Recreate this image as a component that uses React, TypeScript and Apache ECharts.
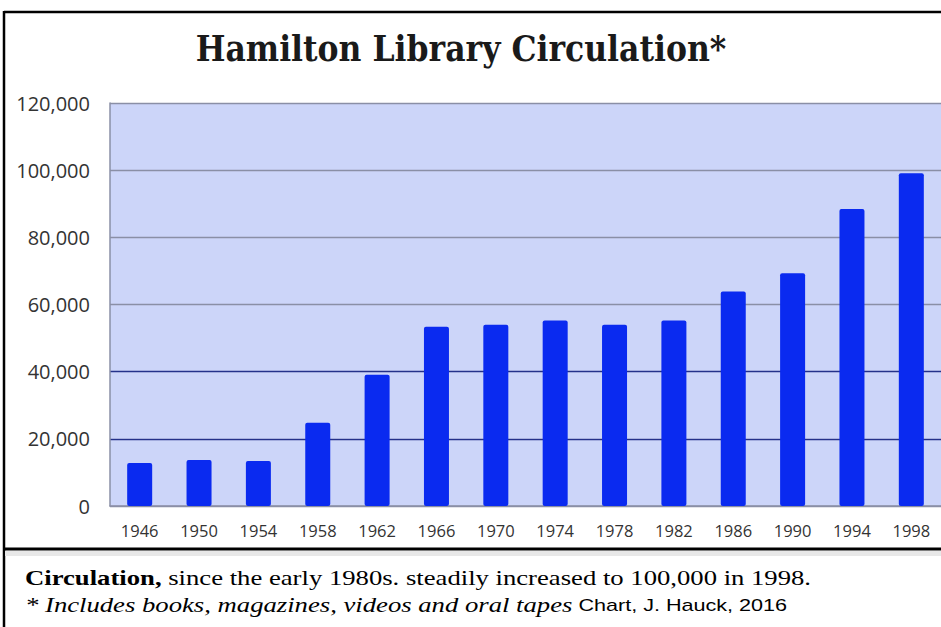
import React, { useEffect, useRef } from "react";
import * as echarts from "echarts";

const years = ["1946", "1950", "1954", "1958", "1962", "1966", "1970", "1974", "1978", "1982", "1986", "1990", "1994", "1998"];
const circulation = [12800, 13700, 13400, 24800, 39100, 53400, 54000, 55200, 54000, 55200, 63900, 69300, 88400, 99100];
const yTicks = { min: 0, max: 120000, interval: 20000 };
const titleText = "Hamilton Library Circulation*";
const noteBold = "Circulation,";
const noteRest = " since the early 1980s. steadily increased to 100,000 in 1998.";
const footItalic = "* Includes books, magazines, videos and oral tapes";
const footCredit = " Chart, J. Hauck, 2016";

export default function App() {
  const ref = useRef<HTMLDivElement>(null);
  useEffect(() => {
    if (!ref.current) return;
    const chart = echarts.init(ref.current, null, { renderer: "svg" });
    const gray = "#8a8fa6";
    const navy = "#24318a";
    chart.setOption({
      animation: false,
      backgroundColor: "#ffffff",
      grid: { left: 110, top: 103, width: 837, height: 403, containLabel: false },
      xAxis: {
        type: "category",
        data: years,
        axisLine: { show: true, lineStyle: { color: gray, width: 1.5 } },
        axisTick: { show: false },
        axisLabel: { color: "#333333", fontFamily: "Open Sans", fontSize: 16.5, margin: 16 },
      },
      yAxis: {
        type: "value",
        min: yTicks.min,
        max: yTicks.max,
        interval: yTicks.interval,
        axisLine: { show: true, lineStyle: { color: gray, width: 1.5 } },
        axisTick: { show: false },
        splitLine: {
          show: true,
          lineStyle: { color: [gray, navy, navy, gray, gray, gray, gray], width: 1.3 },
        },
        splitArea: { show: true, areaStyle: { color: ["#ccd5f9", "#ccd5f9"] } },
        axisLabel: {
          color: "#333333",
          fontFamily: "Open Sans",
          fontSize: 20,
          margin: 20,
          formatter: (v: number) => v.toLocaleString("en-US"),
        },
      },
      series: [
        {
          type: "bar",
          data: circulation,
          barWidth: 25,
          itemStyle: { color: "#0a2af0", borderRadius: 2 },
        },
      ],
      graphic: [
        { type: "line", shape: { x1: 4, y1: 12, x2: 941, y2: 12 }, style: { stroke: "#000", lineWidth: 2.5 } },
        { type: "line", shape: { x1: 4, y1: 11, x2: 4, y2: 627 }, style: { stroke: "#000", lineWidth: 2.5 } },
        { type: "rect", shape: { x: 5, y: 551, width: 936, height: 5 }, style: { fill: "#e8e8e8" } },
        { type: "line", shape: { x1: 4, y1: 549, x2: 941, y2: 549 }, style: { stroke: "#000", lineWidth: 3 } },
        {
          type: "text",
          x: 461,
          y: 49,
          scaleX: 0.9,
          style: {
            text: titleText,
            fill: "#1a1a1a",
            font: "bold 35px 'DejaVu Serif'",
            align: "center",
            verticalAlign: "middle",
          },
        },
        {
          type: "text",
          x: 25,
          y: 578,
          scaleX: 1.27,
          style: {
            text: `{b|${noteBold}}{r|${noteRest}}`,
            verticalAlign: "middle",
            rich: {
              b: { font: "bold 21px 'Liberation Serif'", fill: "#000" },
              r: { font: "21px 'Liberation Serif'", fill: "#000" },
            },
          },
        },
        {
          type: "text",
          x: 25,
          y: 605,
          scaleX: 1.27,
          style: {
            text: `{i|${footItalic}}{c|${footCredit}}`,
            verticalAlign: "middle",
            rich: {
              i: { font: "italic 21px 'Liberation Serif'", fill: "#000" },
              c: { font: "17px 'Liberation Sans'", fill: "#000" },
            },
          },
        },
      ],
    });
    return () => chart.dispose();
  }, []);
  return <div ref={ref} style={{ position: "absolute", left: 0, top: 0, width: 941, height: 627 }} />;
}
